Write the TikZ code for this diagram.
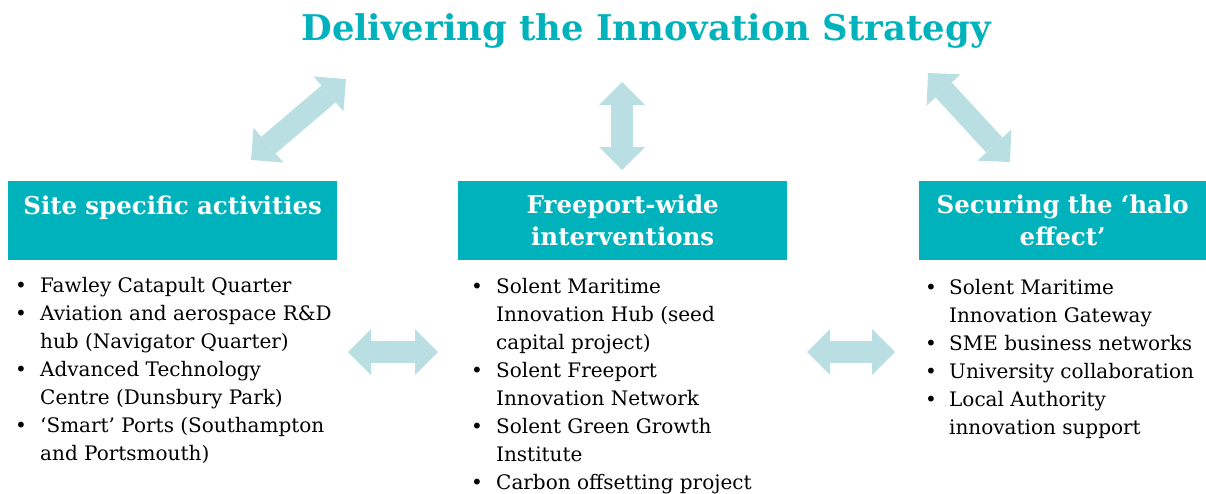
\documentclass[tikz,border=0pt]{standalone}
\usepackage{fontspec}
\setmainfont{DejaVu Serif}
\usetikzlibrary{arrows.meta}

\definecolor{solteal}{RGB}{0,178,188}
\definecolor{solpale}{RGB}{185,223,227}

\tikzset{
  heading/.style={fill=solteal, text=white, font=\bfseries\fontsize{24.5}{32}\selectfont,
    align=center, inner sep=0pt, minimum height=79pt, anchor=north west},
  bullets/.style={anchor=base west, inner sep=0pt, font=\fontsize{20}{28}\selectfont},
  twoway/.style={solpale, line width=22pt,
    {Triangle[width=46pt,length=23pt,line width=0pt]}-{Triangle[width=46pt,length=23pt,line width=0pt]}}
}

\begin{document}
\begin{tikzpicture}[x=1pt, y=-1pt]
    \useasboundingbox (0,0) rectangle (1206,493);

    \node[anchor=base, text=solteal, font=\bfseries\fontsize{35.4}{40}\selectfont, inner sep=0pt] (title) at (646,40) {Delivering the Innovation Strategy};

    % the three heading boxes
    \node[heading, text width=329pt] (site) at (8,181) {Site specific activities\\ \mbox{}};
    \node[heading, text width=329pt] (wide) at (458,181) {Freeport-wide\\ interventions};
    \node[heading, text width=287pt] (halo) at (919,181) {Securing the `halo\\ effect'};

    % lists under the boxes
    \node[bullets] (sitelist) at (15,292) {\begin{tabular}[t]{@{}p{25pt}@{}l@{}}
        \textbullet & Fawley Catapult Quarter\\
        \textbullet & Aviation and aerospace R\&D\\
                    & hub (Navigator Quarter)\\
        \textbullet & Advanced Technology\\
                    & Centre (Dunsbury Park)\\
        \textbullet & `Smart' Ports (Southampton\\
                    & and Portsmouth)
      \end{tabular}};
    \node[bullets] (widelist) at (471,293) {\begin{tabular}[t]{@{}p{25pt}@{}l@{}}
        \textbullet & Solent Maritime\\
                    & Innovation Hub (seed\\
                    & capital project)\\
        \textbullet & Solent Freeport\\
                    & Innovation Network\\
        \textbullet & Solent Green Growth\\
                    & Institute\\
        \textbullet & Carbon offsetting project
      \end{tabular}};
    \node[bullets] (halolist) at (925,294) {\begin{tabular}[t]{@{}p{24pt}@{}l@{}}
        \textbullet & Solent Maritime\\
                    & Innovation Gateway\\
        \textbullet & SME business networks\\
        \textbullet & University collaboration\\
        \textbullet & Local Authority\\
                    & innovation support
      \end{tabular}};

    % arrow ends
    \coordinate (siteup) at (251,160);
    \coordinate (titlesw) at (346,79);
    \coordinate (titles) at (622,82);
    \coordinate (wideup) at (622,170);
    \coordinate (titlese) at (928,73);
    \coordinate (haloup) at (1010,162);
    \coordinate (siteright) at (348,352);
    \coordinate (wideleft) at (438,352);
    \coordinate (wideright) at (807,352);
    \coordinate (haloleft) at (895,352);

    \draw[twoway] (siteup) -- (titlesw);
    \draw[twoway] (titles) -- (wideup);
    \draw[twoway] (titlese) -- (haloup);
    \draw[twoway] (siteright) -- (wideleft);
    \draw[twoway] (wideright) -- (haloleft);
\end{tikzpicture}
\end{document}
